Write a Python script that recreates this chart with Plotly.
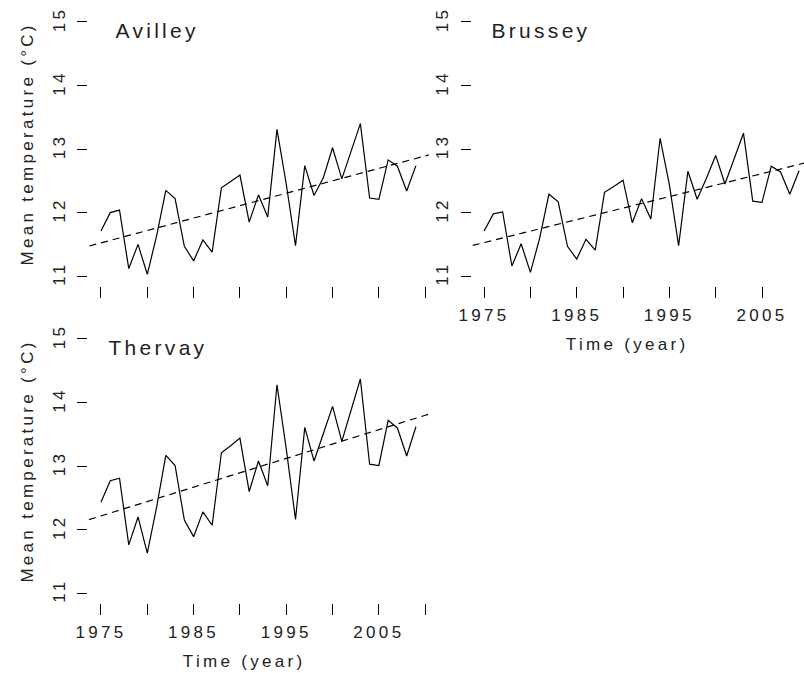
import numpy as np
import plotly.graph_objects as go

# ---------------- data ----------------
years = list(range(1975, 2010))

avilley = [11.71, 12.00, 12.04, 11.12, 11.50, 11.03, 11.63, 12.35, 12.22, 11.47,
           11.24, 11.57, 11.38, 12.39, 12.49, 12.59, 11.85, 12.28, 11.93, 13.31,
           12.45, 11.48, 12.74, 12.27, 12.55, 13.02, 12.53, 12.96, 13.40, 12.23,
           12.21, 12.83, 12.73, 12.34, 12.74]

brussey = [11.71, 11.98, 12.01, 11.16, 11.51, 11.06, 11.60, 12.29, 12.17, 11.47,
           11.27, 11.58, 11.41, 12.32, 12.41, 12.51, 11.84, 12.22, 11.90, 13.17,
           12.44, 11.48, 12.65, 12.21, 12.54, 12.90, 12.45, 12.85, 13.25, 12.18,
           12.16, 12.73, 12.64, 12.29, 12.66]

thervay = [12.43, 12.77, 12.81, 11.76, 12.20, 11.63, 12.35, 13.17, 13.01, 12.15,
           11.89, 12.28, 12.07, 13.21, 13.32, 13.44, 12.60, 13.08, 12.69, 14.28,
           13.27, 12.16, 13.61, 13.08, 13.51, 13.94, 13.39, 13.88, 14.37, 13.03,
           13.01, 13.72, 13.60, 13.16, 13.62]

site_names = ["Avilley", "Brussey", "Thervay"]
x_tick_vals = [1975, 1980, 1985, 1990, 1995, 2000, 2005, 2010]
x_tick_text = ["1975", "", "1985", "", "1995", "", "2005", ""]
y_tick_vals = [11, 12, 13, 14, 15]
x_title = "Time (year)"
y_title = "Mean temperature (°C)"

# ---------------- layout geometry (pixels) ----------------
W, H = 804, 673
FONT = "Liberation Sans, Arial, sans-serif"
px_per_year = 9.333
x_lo = 1973.64
y_range = [10.84, 15.16]


def px(x):
    return x / W


def py(y):
    return 1 - y / H


panels = [
    # series, x-left px, x-right px, y-top px, y-bottom px, show labels
    (avilley, 83, 426, 9.8, 285.2, False),
    (brussey, 469, 804, 9.8, 285.2, True),
    (thervay, 83, 426, 327.8, 603.2, True),
]

fig = go.Figure()

for i, ((series, xl, xr, yt, yb, lab), name) in enumerate(zip(panels, site_names)):
    idx = "" if i == 0 else str(i + 1)
    xa, ya = "x" + idx, "y" + idx
    x_hi = x_lo + (xr - xl) / px_per_year
    px_per_unit = (yb - yt) / (y_range[1] - y_range[0])

    fig.add_trace(go.Scatter(x=years, y=series, mode="lines",
                             line=dict(color="black", width=1.2),
                             xaxis=xa, yaxis=ya, showlegend=False,
                             hoverinfo="skip"))
    slope, icpt = np.polyfit(years, series, 1)
    tx = [1970, 2015]
    fig.add_trace(go.Scatter(x=tx, y=[icpt + slope * t for t in tx], mode="lines",
                             line=dict(color="black", width=1.2, dash="7px,5px"),
                             xaxis=xa, yaxis=ya, showlegend=False,
                             hoverinfo="skip"))

    fig.update_layout(**{
        "xaxis" + idx: dict(domain=[px(xl), px(xr)], range=[x_lo, x_hi],
                            anchor=ya, tickmode="array", tickvals=x_tick_vals,
                            ticktext=x_tick_text, ticks="outside", ticklen=11,
                            tickwidth=1.2, tickcolor="black",
                            showticklabels=lab, showline=False, showgrid=False,
                            zeroline=False, ticklabelstandoff=2,
                            tickfont=dict(family=FONT, size=17, color="#222")),
        "yaxis" + idx: dict(domain=[py(yb), py(yt)], range=y_range,
                            anchor=xa, tickmode="array", tickvals=y_tick_vals,
                            ticks="outside", ticklen=10, tickwidth=1.2,
                            tickcolor="black", tickangle=-90,
                            showline=False, showgrid=False, zeroline=False,
                            ticklabelstandoff=6,
                            tickfont=dict(family=FONT, size=17, color="#222")),
    })

    # R-style axis lines spanning only first to last tick: extra bare axes
    ax_x0 = xl + (x_tick_vals[0] - x_lo) * px_per_year
    ax_x1 = min(W, xl + (x_tick_vals[-1] - x_lo) * px_per_year)
    ay_top = yb - (y_tick_vals[-1] - y_range[0]) * px_per_unit
    ay_bot = yb - (y_tick_vals[0] - y_range[0]) * px_per_unit
    bx, by = "xaxis" + str(4 + i), "yaxis" + str(4 + i)
    fig.update_layout(**{
        bx: dict(domain=[px(ax_x0), px(ax_x1)], anchor=ya, showline=True,
                 linecolor="black", linewidth=1.2, ticks="", showticklabels=False,
                 showgrid=False, zeroline=False),
        by: dict(domain=[py(ay_bot), py(ay_top)], anchor=xa, showline=True,
                 linecolor="black", linewidth=1.2, ticks="", showticklabels=False,
                 showgrid=False, zeroline=False),
    })

    # site name
    fig.add_annotation(text=name, xref="paper", yref="paper",
                       x=px(xl + 70), y=py(yt + 19), xanchor="center",
                       yanchor="middle", showarrow=False,
                       font=dict(family=FONT, size=21, color="#222"))
    if lab:
        fig.add_annotation(text=x_title, xref="paper", yref="paper",
                           x=px(xl + 157), y=py(yb + 58), xanchor="center",
                           yanchor="middle", showarrow=False,
                           font=dict(family=FONT, size=17, color="#222"))
    if xl < 200:
        fig.add_annotation(text=y_title, xref="paper", yref="paper",
                           x=px(21), y=py((yt + yb) / 2 - 5), textangle=-90,
                           xanchor="center", yanchor="middle", showarrow=False,
                           font=dict(family=FONT, size=17, color="#222"))

fig.update_layout(width=W, height=H, margin=dict(l=0, r=0, t=0, b=0),
                  plot_bgcolor="rgba(0,0,0,0)", paper_bgcolor="white")

post = """
var gd = document.getElementById('{plot_id}');
function spacing(){
  gd.querySelectorAll('text').forEach(function(t){ t.style.letterSpacing = '3.3px'; });
}
spacing();
gd.on('plotly_afterplot', spacing);
"""

fig.write_html("out.html", post_script=post)
